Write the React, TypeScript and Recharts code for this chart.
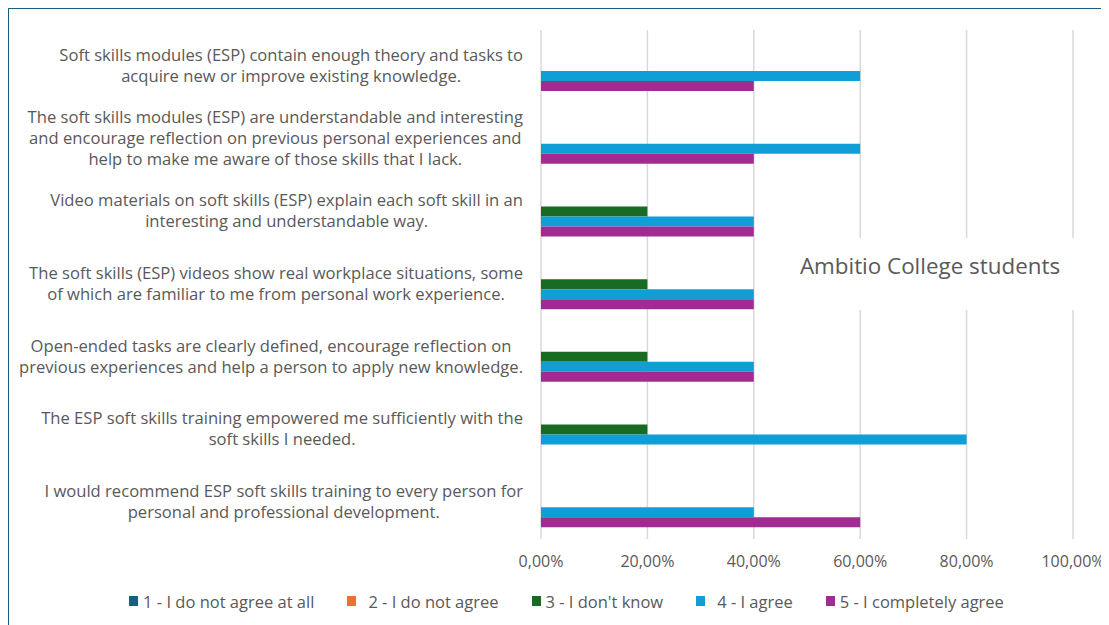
import { Bar, BarChart, CartesianGrid, Legend, XAxis, YAxis } from 'recharts';

const questionLines: string[][] = [
  ['Soft skills modules (ESP) contain enough theory and tasks to', 'acquire new or improve existing knowledge.'],
  [
    'The soft skills modules (ESP) are understandable and interesting',
    'and encourage reflection on previous personal experiences and',
    'help to make me aware of those skills that I lack.',
  ],
  ['Video materials on soft skills (ESP) explain each soft skill in an', 'interesting and understandable way.'],
  ['The soft skills (ESP) videos show real workplace situations, some', 'of which are familiar to me from personal work experience.'],
  ['Open-ended tasks are clearly defined, encourage reflection on', 'previous experiences and help a person to apply new knowledge.'],
  ['The ESP soft skills training empowered me sufficiently with the', 'soft skills I needed.'],
  ['I would recommend ESP soft skills training to every person for', 'personal and professional development.'],
];

const seriesNames = ['1 - I do not agree at all', '2 - I do not agree', "3 - I don't know", '4 - I agree', '5 - I completely agree'];
const seriesColors = ['#156082', '#E97132', '#196B24', '#0F9ED5', '#A02B93'];

const notAgreeAtAll = [0, 0, 0, 0, 0, 0, 0];
const notAgree = [0, 0, 0, 0, 0, 0, 0];
const dontKnow = [0, 0, 0.2, 0.2, 0.2, 0.2, 0];
const agree = [0.6, 0.6, 0.4, 0.4, 0.4, 0.8, 0.4];
const completelyAgree = [0.4, 0.4, 0.4, 0.4, 0.4, 0, 0.6];

const xTicks = [0, 0.2, 0.4, 0.6, 0.8, 1];

const data = questionLines.map((lines, i) => ({
  name: lines.join(' '),
  s1: notAgreeAtAll[i],
  s2: notAgree[i],
  s3: dontKnow[i],
  s4: agree[i],
  s5: completelyAgree[i],
}));

const FONT = '"Open Sans", "Liberation Sans", sans-serif';
const TEXT = '#595959';
const LABEL_SIZE = 16.6;

const pct = (v: number) => (v * 100).toFixed(2).replace('.', ',') + '%';

let ctx: CanvasRenderingContext2D | null = null;
function textWidth(s: string) {
  if (!ctx) ctx = document.createElement('canvas').getContext('2d');
  if (!ctx) return s.length * LABEL_SIZE * 0.5;
  ctx.font = `${LABEL_SIZE}px "Open Sans"`;
  return ctx.measureText(s).width;
}

// label block is right-aligned next to the plot, lines centred inside it
function QuestionTick(props: any) {
  const { y, payload } = props;
  const lines = questionLines[payload.index] ?? [String(payload.value)];
  const lh = 21;
  const start = y - 1 - ((lines.length - 1) * lh) / 2;
  const maxW = Math.max(...lines.map(textWidth));
  const cx = 515 - maxW / 2;
  return (
    <g>
      {lines.map((l, i) => (
        <text key={i} x={cx} y={start + i * lh} dy="0.35em" textAnchor="middle" fill={TEXT} fontSize={LABEL_SIZE} fontFamily={FONT}>
          {l}
        </text>
      ))}
    </g>
  );
}

function LegendRow() {
  return (
    <div style={{ height: 30, paddingLeft: 52, display: 'flex', justifyContent: 'center', alignItems: 'center', gap: 33, fontFamily: FONT, fontSize: 16.5, color: TEXT }}>
      {seriesNames.map((n, i) => (
        <div key={n} style={{ display: 'flex', alignItems: 'center' }}>
          <span style={{ width: 9, height: 10, background: seriesColors[i], display: 'inline-block', marginRight: i === 1 || i === 3 ? 12 : 5 }} />
          <span>{n}</span>
        </div>
      ))}
    </div>
  );
}

export default function App() {
  return (
    <div style={{ position: 'relative', width: 1101, height: 617 }}>
      <div style={{ position: 'absolute', left: -1, top: -1, width: 1102, height: 618, borderTop: '2px solid #156082', borderLeft: '2px solid #156082', boxSizing: 'border-box' }} />
      <BarChart width={1101} height={617} data={data} layout="vertical" margin={{ top: 22, right: 36, bottom: 9, left: 0 }} barSize={10} barGap={0}>
        <CartesianGrid horizontal={false} stroke="#d9d9d9" strokeWidth={1.5} />
        <XAxis type="number" domain={[0, 1]} ticks={xTicks} tickFormatter={pct} axisLine={false} tickLine={false} tickMargin={11} height={47} tick={{ fill: TEXT, fontSize: 16, fontFamily: FONT }} />
        <YAxis type="category" dataKey="name" width={533} axisLine={false} tickLine={false} tick={<QuestionTick />} interval={0} />
        <Legend verticalAlign="bottom" content={() => <LegendRow />} />
        <Bar dataKey="s1" name={seriesNames[0]} fill={seriesColors[0]} isAnimationActive={false} />
        <Bar dataKey="s2" name={seriesNames[1]} fill={seriesColors[1]} isAnimationActive={false} />
        <Bar dataKey="s3" name={seriesNames[2]} fill={seriesColors[2]} isAnimationActive={false} />
        <Bar dataKey="s4" name={seriesNames[3]} fill={seriesColors[3]} isAnimationActive={false} />
        <Bar dataKey="s5" name={seriesNames[4]} fill={seriesColors[4]} isAnimationActive={false} />
      </BarChart>
      <div style={{ position: 'absolute', left: 762, top: 230, width: 320, height: 72, background: '#fff', boxSizing: 'border-box', paddingTop: 13, lineHeight: '30px', textAlign: 'center', fontFamily: FONT, fontSize: 22.4, color: TEXT }}>
        Ambitio College students
      </div>
    </div>
  );
}
